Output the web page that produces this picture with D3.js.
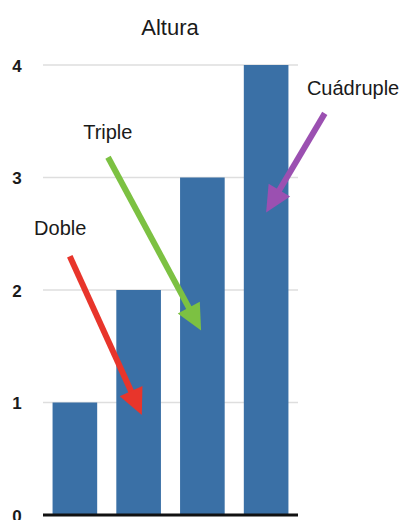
<!DOCTYPE html>
<html>
<head>
<meta charset="utf-8">
<script src="https://cdn.jsdelivr.net/npm/d3@7"></script>
<style>
  html, body { margin: 0; padding: 0; background: #fff; }
  svg { display: block; }
  text { font-family: "Liberation Sans", Arial, Helvetica, sans-serif; fill: #1a1a1a; }
</style>
</head>
<body>
<script>
// Bar chart data
const categories = ["A", "B", "C", "D"];
const values = [1, 2, 3, 4];
const yTicks = [0, 1, 2, 3, 4];
const title = "Altura";

// Annotation arrows, in data units: x in category slots (0..4), y in value units
const annLabels = ["Doble", "Triple", "Cuádruple"];
const annColors = ["#e8352b", "#7cc142", "#9b50b1"];
const annStart = [[0.42, 2.30], [1.02, 3.18], [4.42, 3.57]];
const annTip = [[1.55, 0.89], [2.48, 1.64], [3.50, 2.69]];
const annText = [[-0.14, 2.49], [0.63, 3.34], [4.14, 3.73]];

const W = 405, H = 520;
const plotLeft = 43, plotRight = 298, plotTop = 65, plotBottom = 515;

const svg = d3.select("body").append("svg").attr("width", W).attr("height", H);

const x = d3.scaleBand().domain(categories).range([plotLeft, plotRight])
  .paddingInner(0.3).paddingOuter(0.15);
const y = d3.scaleLinear().domain([0, 4]).range([plotBottom, plotTop]);
const xs = d3.scaleLinear().domain([0, 4]).range([plotLeft, plotRight]);

// Title
svg.append("text").attr("x", 170).attr("y", 35)
  .attr("text-anchor", "middle").attr("font-size", 22).text(title);

// Gridlines
svg.append("g").selectAll("line").data(yTicks.filter(d => d > 0)).join("line")
  .attr("x1", plotLeft).attr("x2", plotRight)
  .attr("y1", d => y(d)).attr("y2", d => y(d))
  .attr("stroke", "#dedede").attr("stroke-width", 1.5);

// Y axis labels
const yAxis = d3.axisLeft(y).tickValues(yTicks).tickSize(0).tickPadding(0).tickFormat(d3.format("d"));
const gy = svg.append("g").attr("transform", "translate(17,0)").call(yAxis);
gy.select(".domain").remove();
gy.selectAll("text").attr("text-anchor", "middle").attr("font-size", 17)
  .attr("font-family", "Liberation Sans, Arial, sans-serif").attr("fill", "#1a1a1a")
  .attr("font-weight", "bold").attr("dy", "0.36em");

// Bars
svg.append("g").selectAll("rect").data(values).join("rect")
  .attr("x", (d, i) => x(categories[i]))
  .attr("width", x.bandwidth())
  .attr("y", d => y(d))
  .attr("height", d => y(0) - y(d))
  .attr("fill", "#3a70a6");

// Baseline
svg.append("line").attr("x1", plotLeft).attr("x2", plotRight)
  .attr("y1", y(0)).attr("y2", y(0))
  .attr("stroke", "#111").attr("stroke-width", 3);

// Arrows
const headLen = 26, headHalf = 12.5;
annLabels.forEach((lab, i) => {
  const x0 = xs(annStart[i][0]), y0 = y(annStart[i][1]);
  const x1 = xs(annTip[i][0]), y1 = y(annTip[i][1]);
  const dx = x1 - x0, dy = y1 - y0, len = Math.hypot(dx, dy);
  const ux = dx / len, uy = dy / len;
  const bx = x1 - ux * headLen, by = y1 - uy * headLen;
  const g = svg.append("g");
  g.append("line").attr("x1", x0).attr("y1", y0)
    .attr("x2", bx + ux * 2).attr("y2", by + uy * 2)
    .attr("stroke", annColors[i]).attr("stroke-width", 6);
  g.append("path")
    .attr("d", `M${x1},${y1}L${bx - uy * headHalf},${by + ux * headHalf}L${bx + uy * headHalf},${by - ux * headHalf}Z`)
    .attr("fill", annColors[i]);
  svg.append("text").attr("x", xs(annText[i][0])).attr("y", y(annText[i][1]))
    .attr("font-size", 20).text(lab);
});
</script>
</body>
</html>
